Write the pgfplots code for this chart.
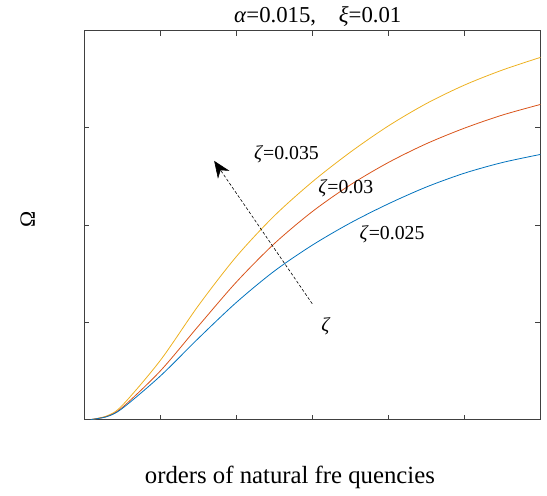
\documentclass[border=0pt]{standalone}
\usepackage{pgfplots}
\pgfplotsset{compat=1.18}
\usepackage{fontspec}
\setmainfont{Liberation Serif}
\usetikzlibrary{arrows.meta}
\definecolor{mblue}{rgb}{0,0.447,0.741}
\definecolor{morange}{rgb}{0.85,0.325,0.098}
\definecolor{myellow}{rgb}{0.929,0.694,0.125}

\begin{document}
\begin{tikzpicture}
\fontsize{20}{24}\selectfont
\begin{axis}[
  width=461pt, height=393pt, scale only axis,
  xmin=0, xmax=6, ymin=0, ymax=4,
  xtick={0,1,2,3,4,5,6}, ytick={0,1,2,3,4},
  xticklabels={}, yticklabels={},
  major tick length=5pt,
  axis line style={black!75, line width=0.8pt},
  tick style={black!75, line width=0.8pt},
  clip=false,
]
% zeta = 0.035
\addplot[myellow, line width=0.8pt, smooth] coordinates {
 (0.09,0) (0.3,0.038) (0.5,0.144) (1.0,0.606) (1.5,1.169) (2.0,1.674)
 (2.5,2.094) (3.0,2.444) (3.5,2.749) (4.0,3.019) (4.5,3.249) (5.0,3.439)
 (5.5,3.594) (6.0,3.724)};
% zeta = 0.03
\addplot[morange, line width=0.8pt, smooth] coordinates {
 (0.09,0) (0.3,0.032) (0.5,0.123) (1.0,0.498) (1.5,0.959) (2.0,1.412)
 (2.5,1.808) (3.0,2.138) (3.5,2.413) (4.0,2.643) (4.5,2.836) (5.0,2.996)
 (5.5,3.131) (6.0,3.240)};
% zeta = 0.025
\addplot[mblue, line width=0.8pt, smooth] coordinates {
 (0.09,0) (0.3,0.030) (0.5,0.113) (1.0,0.446) (1.5,0.833) (2.0,1.203)
 (2.5,1.526) (3.0,1.793) (3.5,2.021) (4.0,2.218) (4.5,2.391) (5.0,2.533)
 (5.5,2.643) (6.0,2.726)};

\draw[black, line width=0.6pt, dash pattern=on 3pt off 2pt,
  -{Stealth[length=17pt,width=14pt]}] (axis cs:3.0,1.19) -- (axis cs:1.71,2.66);

\node at (axis cs:2.66,2.73) {\textit{ζ}=0.035};
\node at (axis cs:3.44,2.38) {\textit{ζ}=0.03};
\node at (axis cs:4.05,1.90) {\textit{ζ}=0.025};
\node at (axis cs:3.18,0.96) {\textit{ζ}};

\node[font=\fontsize{23}{26}\selectfont] at (axis description cs:0.512,1.036) {\textit{α}=0.015,\quad \textit{ξ}=0.01};
\node[font=\fontsize{25}{28}\selectfont] at (axis description cs:0.451,-0.150) {orders of natural fre quencies};
\node[rotate=90, font=\fontsize{22}{26}\selectfont] at (axis description cs:-0.1236,0.514) {Ω};

\path (axis description cs:-0.1844,-0.1858) (axis description cs:1.002,1.0738);
\end{axis}
\end{tikzpicture}
\end{document}
